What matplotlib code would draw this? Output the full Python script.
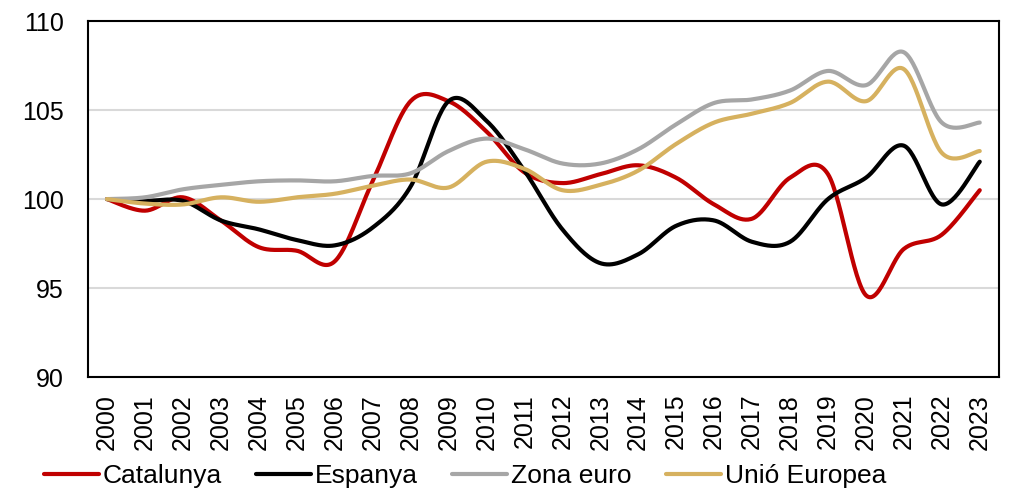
"""
Índex de comparació 2000-2023 (2000 = 100)
Catalunya, Espanya, Zona euro i Unió Europea
"""
import numpy as np
import matplotlib
matplotlib.use("Agg")
import matplotlib.pyplot as plt

# Dades llegides del gràfic
anys = [str(a) for a in range(2000, 2024)]

catalunya = [100.0, 99.35, 100.1, 98.8, 97.3, 97.1, 96.5, 101.0, 105.5, 105.5,
             103.8, 101.5, 100.9, 101.4, 101.9, 101.2, 99.7, 98.9, 101.2, 101.4,
             94.6, 97.2, 98.0, 100.5]
espanya = [100.0, 99.9, 99.9, 98.8, 98.3, 97.7, 97.4, 98.4, 100.7, 105.5,
           104.4, 101.6, 98.3, 96.4, 96.9, 98.5, 98.8, 97.6, 97.6, 100.0,
           101.2, 103.0, 99.7, 102.1]
zona_euro = [100.0, 100.1, 100.55, 100.8, 101.0, 101.05, 101.0, 101.3, 101.45, 102.7,
             103.4, 102.8, 102.0, 102.0, 102.8, 104.2, 105.4, 105.6, 106.1, 107.2,
             106.4, 108.25, 104.3, 104.3]
unio_europea = [100.0, 99.75, 99.7, 100.1, 99.85, 100.1, 100.3, 100.75, 101.1, 100.65,
                102.1, 101.7, 100.5, 100.8, 101.6, 103.1, 104.3, 104.8, 105.4, 106.6,
                105.5, 107.3, 102.6, 102.7]

series = [
    ("Catalunya", catalunya, "#C00000"),
    ("Espanya", espanya, "#000000"),
    ("Zona euro", zona_euro, "#A6A6A6"),
    ("Unió Europea", unio_europea, "#D6B15F"),
]


def suavitzar(xs, ys, n=30):
    """Corba suavitzada tipus Excel (Bezier a partir dels punts)."""
    p = np.column_stack([xs, ys]).astype(float)
    ext = np.vstack([p[0], p, p[-1]])
    t = np.linspace(0, 1, n)[:, None]
    trossos = []
    for i in range(len(p) - 1):
        p0, p1, p2, p3 = ext[i], ext[i + 1], ext[i + 2], ext[i + 3]
        c1 = p1 + (p2 - p0) / 6
        c2 = p2 - (p3 - p1) / 6
        b = ((1 - t) ** 3) * p1 + 3 * ((1 - t) ** 2) * t * c1 \
            + 3 * (1 - t) * t ** 2 * c2 + t ** 3 * p2
        trossos.append(b if i == 0 else b[1:])
    corba = np.vstack(trossos)
    return corba[:, 0], corba[:, 1]


plt.rcParams['font.family'] = ['Liberation Sans', 'DejaVu Sans']

fig = plt.figure(figsize=(10.13, 4.91), dpi=100)
ax = fig.add_axes([0.0869, 0.232, 0.899, 0.725])

x = np.arange(len(anys))
for nom, valors, color in series:
    sx, sy = suavitzar(x, valors)
    ax.plot(sx, sy, color=color, lw=3.0, label=nom, solid_capstyle='round', zorder=3)

ax.set_xlim(-0.5, len(anys) - 0.5)
ax.set_ylim(90, 110)
ax.set_yticks([90, 95, 100, 105, 110])
ax.set_xticks(x)
ax.set_xticklabels(anys, rotation=90)
ax.tick_params(axis='both', length=0, labelsize=18)
ax.tick_params(axis='y', pad=17.5)
ax.tick_params(axis='x', pad=12)

ax.grid(axis='y', color='#D9D9D9', lw=1.5, zorder=0)
for s in ax.spines.values():
    s.set_color('black')
    s.set_linewidth(1.5)

fig.legend(loc='center', bbox_to_anchor=(0.459, 0.031), ncol=4, frameon=False,
           fontsize=19, handlelength=2.08, handletextpad=0.15, columnspacing=1.3)

fig.savefig("out.png", dpi=100)
